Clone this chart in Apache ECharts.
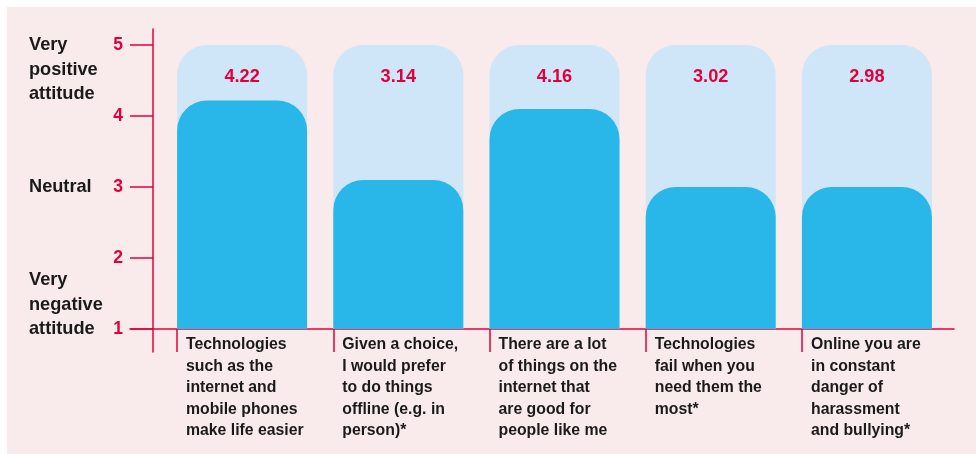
<!DOCTYPE html>
<html>
<head>
<meta charset="utf-8">
<script src="https://cdn.jsdelivr.net/npm/echarts@6/dist/echarts.min.js"></script>
<style>
  html, body { margin: 0; padding: 0; background: #fff; }
  #chart { width: 976px; height: 454px; }
</style>
</head>
<body>
<div id="chart"></div>
<script>
// statements shown under the bars
const statements = [
  'Technologies\nsuch as the\ninternet and\nmobile phones\nmake life easier',
  'Given a choice,\nI would prefer\nto do things\noffline (e.g. in\nperson)*',
  'There are a lot\nof things on the\ninternet that\nare good for\npeople like me',
  'Technologies\nfail when you\nneed them the\nmost*',
  'Online you are\nin constant\ndanger of\nharassment\nand bullying*'
]
// printed mean scores
const meanScores = ['4.22', '3.14', '4.16', '3.02', '2.98']
// bar heights as drawn
const barHeights = [4.22, 3.1, 4.1, 3.0, 3.0]
// full scale behind each bar
const scaleMax = [5, 5, 5, 5, 5]
const attitudeLabels = { 5: '\n\nVery\npositive\nattitude', 3: 'Neutral', 1: 'Very\nnegative\nattitude\n\n' }

const red = '#e2003c'
const font = "'Liberation Sans', Arial, sans-serif"

const chart = echarts.init(document.getElementById('chart'))
const option = {
  animation: false,
  graphic: [{
    type: 'rect',
    z: -10,
    shape: { x: 7, y: 7, width: 969, height: 447 },
    style: { fill: '#f9eaeb' }
  }],
  grid: [
    // bars
    { left: 164, right: 31, top: 45, bottom: 125, outerBoundsMode: 'none' },
    // statements and separators, centred on the bar edges
    { left: 98.875, right: 95.875, top: 45, bottom: 125, outerBoundsMode: 'none' },
    // baseline
    { left: 130, right: 22, top: 45, bottom: 125, outerBoundsMode: 'none' },
    // scale line
    { left: 153, right: 22, top: 29, bottom: 102, outerBoundsMode: 'none' }
  ],
  xAxis: [
    { gridIndex: 0, type: 'category', data: statements, show: false },
    {
      gridIndex: 1,
      type: 'category',
      data: statements,
      axisLine: { show: false },
      axisTick: { show: true, alignWithLabel: true, interval: 0, length: 23, lineStyle: { color: red, width: 1.5 } },
      axisLabel: {
        interval: 0,
        align: 'left',
        padding: [0, 0, 0, 9],
        margin: 5,
        lineHeight: 21.5,
        fontSize: 15.8,
        fontWeight: 'bold',
        fontFamily: font,
        color: '#1a1a1a'
      }
    },
    {
      gridIndex: 2,
      type: 'value',
      axisLine: { show: true, onZero: false, lineStyle: { color: red, width: 1.5 } },
      axisTick: { show: false },
      axisLabel: { show: false },
      splitLine: { show: false }
    },
    { gridIndex: 3, type: 'value', show: false }
  ],
  yAxis: [
    {
      gridIndex: 0,
      type: 'value',
      position: 'left',
      min: 1,
      max: 5,
      interval: 1,
      offset: 11,
      axisLine: { show: false },
      axisTick: { show: true, length: 23, lineStyle: { color: red, width: 1.5 } },
      splitLine: { show: false },
      axisLabel: {
        margin: 30,
        fontSize: 17.5,
        fontWeight: 'bold',
        fontFamily: font,
        color: red
      }
    },
    {
      gridIndex: 0,
      type: 'value',
      position: 'left',
      min: 1,
      max: 5,
      interval: 1,
      axisLine: { show: false },
      axisTick: { show: false },
      splitLine: { show: false },
      axisLabel: {
        margin: 135,
        align: 'left',
        padding: [4, 0, 0, 0],
        lineHeight: 24.5,
        fontSize: 18.2,
        fontWeight: 'bold',
        fontFamily: font,
        color: '#1a1a1a',
        formatter: v => attitudeLabels[v] || ''
      }
    },
    { gridIndex: 1, type: 'value', min: 1, max: 5, show: false },
    { gridIndex: 2, type: 'value', min: 1, max: 5, show: false },
    {
      gridIndex: 3,
      type: 'value',
      position: 'left',
      axisLine: { show: true, onZero: false, lineStyle: { color: red, width: 1.5 } },
      axisTick: { show: false },
      axisLabel: { show: false },
      splitLine: { show: false }
    }
  ],
  series: [
    {
      type: 'bar',
      xAxisIndex: 0,
      yAxisIndex: 0,
      data: scaleMax,
      barWidth: 130,
      barGap: '-100%',
      itemStyle: { color: '#cfe6f8', borderRadius: [30, 30, 0, 0] },
      label: {
        show: true,
        position: 'insideTop',
        distance: 23,
        formatter: p => meanScores[p.dataIndex],
        fontSize: 18.2,
        fontWeight: 'bold',
        fontFamily: font,
        color: red
      },
      silent: true
    },
    {
      type: 'bar',
      xAxisIndex: 0,
      yAxisIndex: 0,
      data: barHeights,
      barWidth: 130,
      barGap: '-100%',
      itemStyle: { color: '#29b6e8', borderRadius: [30, 30, 0, 0] }
    }
  ]
}
chart.setOption(option)
</script>
</body>
</html>
